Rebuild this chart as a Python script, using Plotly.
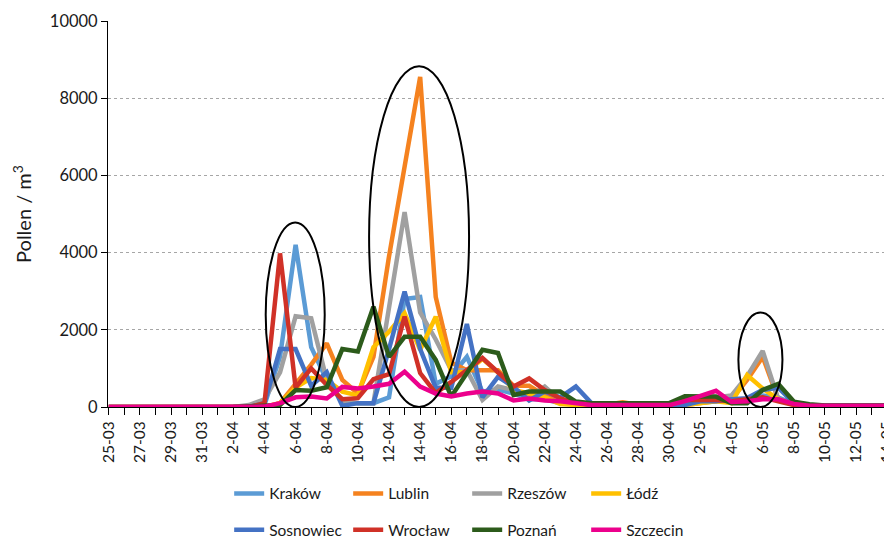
import plotly.graph_objects as go
import datetime as dt

start = dt.date(2024, 3, 25)
dates = [start + dt.timedelta(days=k) for k in range(51)]
categories = [f"{d.day}-{d.month:02d}" for d in dates]
tick_text = [c if k % 2 == 0 else "" for k, c in enumerate(categories)]

krakow = [0, 0, 0, 0, 0, 0, 0, 0, 0, 0,
          50, 1300, 4200, 1550, 700, 150, 100, 100, 250, 2800,
          2850, 600, 800, 1300, 400, 450, 350, 200, 200, 100,
          100, 50, 50, 50, 50, 50, 50, 100, 200, 200,
          150, 200, 300, 250, 80, 30, 30, 30, 30, 30, 30]
lublin = [0, 0, 0, 0, 0, 0, 0, 0, 0, 0,
          0, 100, 600, 1100, 1650, 700, 350, 1300, 3900, 6200,
          8550, 2850, 1150, 950, 950, 950, 550, 550, 300, 170,
          80, 50, 60, 120, 60, 50, 50, 50, 100, 150,
          200, 700, 1300, 200, 80, 30, 30, 30, 30, 30, 30]
rzeszow = [0, 0, 0, 0, 0, 0, 0, 0, 0, 50,
           200, 900, 2350, 2300, 700, 150, 100, 100, 2550, 5050,
           2450, 1750, 950, 950, 180, 530, 440, 260, 530, 170,
           100, 50, 50, 50, 50, 50, 50, 50, 200, 250,
           300, 800, 1450, 200, 80, 30, 30, 30, 30, 30, 30]
lodz = [0, 0, 0, 0, 0, 0, 0, 0, 0, 0,
        0, 100, 500, 750, 700, 400, 300, 1550, 1950, 2430,
        1480, 2340, 900, 900, 1250, 900, 440, 350, 250, 80,
        50, 20, 20, 20, 20, 20, 20, 50, 100, 150,
        100, 830, 480, 200, 50, 20, 20, 20, 20, 20, 20]
sosnowiec = [0, 0, 0, 0, 0, 0, 0, 0, 0, 0,
             100, 1500, 1500, 550, 900, 30, 100, 100, 1500, 2990,
             1500, 500, 500, 2150, 250, 780, 520, 170, 400, 250,
             530, 100, 50, 50, 50, 50, 50, 50, 150, 150,
             200, 230, 440, 500, 100, 30, 30, 30, 30, 30, 30]
wroclaw = [0, 0, 0, 0, 0, 0, 0, 0, 0, 0,
           100, 3980, 500, 1000, 570, 200, 230, 720, 850, 2340,
           880, 360, 650, 960, 1270, 900, 530, 740, 440, 220,
           120, 50, 50, 50, 50, 50, 50, 180, 180, 180,
           150, 200, 250, 150, 50, 20, 20, 20, 20, 20, 20]
poznan = [None, None, None, None, None, None, None, None, 0, 10,
          30, 50, 440, 420, 510, 1500, 1440, 2600, 1300, 1820,
          1820, 1220, 270, 900, 1480, 1400, 310, 400, 400, 400,
          140, 100, 100, 100, 100, 100, 100, 280, 280, 270,
          100, 100, 440, 600, 140, 70, 40, 40, 40, 40, 40]
szczecin = [0, 0, 0, 0, 0, 0, 0, 0, 0, 0,
            10, 100, 250, 270, 220, 520, 480, 530, 600, 915,
            530, 350, 270, 350, 400, 350, 170, 220, 170, 150,
            100, 50, 50, 50, 50, 50, 50, 150, 300, 420,
            130, 150, 200, 200, 80, 30, 30, 30, 30, 30, 30]

series = [
    ("Kraków", krakow, "#5B9BD5", "legend"),
    ("Lublin", lublin, "#F5821F", "legend"),
    ("Rzeszów", rzeszow, "#A0A0A0", "legend"),
    ("Łódź", lodz, "#FFC000", "legend"),
    ("Sosnowiec", sosnowiec, "#4472C4", "legend2"),
    ("Wrocław", wroclaw, "#D03127", "legend2"),
    ("Poznań", poznan, "#2C5B1B", "legend2"),
    ("Szczecin", szczecin, "#EC008C", "legend2"),
]

# highlighted episodes: (first idx, last idx, top value)
ellipses = [(10.08, 13.87, 4780), (16.72, 23.14, 8830), (40.44, 43.27, 2450)]

fig = go.Figure()
for name, vals, color, lg in series:
    fig.add_trace(go.Scatter(
        x=categories, y=vals, name=name, mode="lines",
        line=dict(color=color, width=4.5), legend=lg, connectgaps=False,
    ))

for x0, x1, top in ellipses:
    fig.add_shape(type="circle", xref="x", yref="y", x0=x0, x1=x1, y0=0, y1=top,
                  line=dict(color="black", width=2), layer="above")

font_family = "Lato, 'Open Sans', sans-serif"
fig.update_layout(
    width=892, height=538,
    margin=dict(l=100, r=0, t=13, b=139, autoexpand=False),
    paper_bgcolor="white", plot_bgcolor="white",
    font=dict(family=font_family, color="#1a1a1a", size=16),
    xaxis=dict(
        type="category", range=[-0.05, 50.82], automargin=False,
        tickmode="array", tickvals=categories, ticktext=tick_text,
        tickangle=-90, tickfont=dict(size=15.5),
        showline=True, linecolor="black", linewidth=1,
        ticks="outside", ticklen=7, tickcolor="black",
        showgrid=False, zeroline=False,
    ),
    yaxis=dict(
        range=[0, 10000], tickvals=[0, 2000, 4000, 6000, 8000, 10000],
        tickformat="d", tickfont=dict(size=16.5), automargin=False,
        showline=True, linecolor="black", linewidth=1,
        ticks="outside", ticklen=6, tickcolor="black",
        showgrid=True, gridcolor="#a6a6a6", griddash="dot", gridwidth=1,
        zeroline=False,
        title=dict(text="Pollen / m<sup>3</sup>", font=dict(size=20), standoff=12),
    ),
    legend=dict(orientation="h", x=0.153, xanchor="left", y=-0.225, yanchor="middle",
                entrywidth=74, font=dict(size=15.5), bgcolor="rgba(0,0,0,0)"),
    legend2=dict(orientation="h", x=0.153, xanchor="left", y=-0.319, yanchor="middle",
                 entrywidth=74, font=dict(size=15.5), bgcolor="rgba(0,0,0,0)"),
)

fig.write_html("out.html")
